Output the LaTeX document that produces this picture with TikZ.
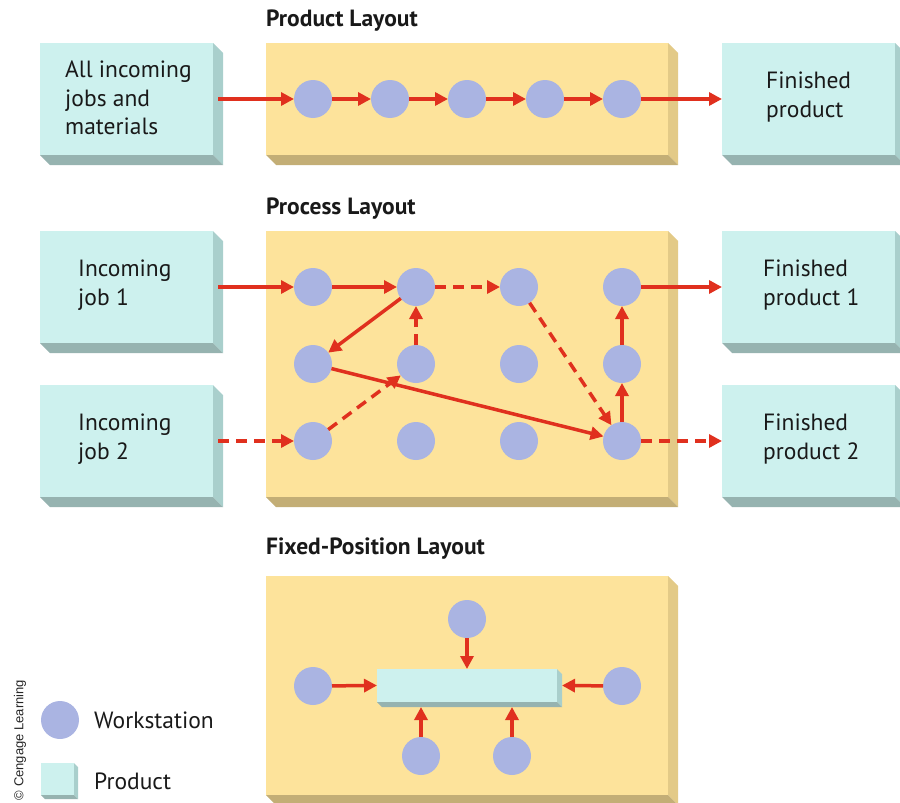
\documentclass[tikz,border=0pt]{standalone}
\usepackage{fontspec}
\setmainfont{PT Sans}
\newfontfamily\creditfont{Liberation Sans}
\usetikzlibrary{calc,arrows.meta,positioning}
\definecolor{jobcyan}{HTML}{CDF1EE}
\definecolor{jobcyanside}{HTML}{A9CFCC}
\definecolor{jobcyanbase}{HTML}{96B3B0}
\definecolor{floor}{HTML}{FDE39B}
\definecolor{floorside}{HTML}{E3CA87}
\definecolor{floorbase}{HTML}{C3AE76}
\definecolor{wsblue}{HTML}{AAB4E2}
\definecolor{flowred}{HTML}{E0301E}
% side and bottom faces of a slab node
\newcommand{\slabfaces}[3]{%
	\fill[#3side] (#1.north east) -- ++(#2,#2) -- ($(#1.south east)+(#2,#2)$) -- (#1.south east) -- cycle;
	\fill[#3base] (#1.south west) -- (#1.south east) -- ++(#2,#2) -- ($(#1.south west)+(#2,#2)$) -- cycle;
}
\tikzset{
	slab/.style={
		rectangle, inner sep=0pt, outer sep=0pt, anchor=north west
	},
	jobbox/.style={
		slab, fill=jobcyan, minimum width=173pt, minimum height=112pt
	},
	floorbox/.style={
		slab, fill=floor, minimum width=402pt, minimum height=#1
	},
	ws/.style={
		circle, fill=wsblue, minimum size=38pt,
		inner sep=0pt, outer sep=0pt
	},
	boxtext/.style={
		anchor=west, align=left, inner sep=0pt,
		font=\fontsize{23.5}{28.5}\selectfont, text=black!90
	},
	layouttitle/.style={
		anchor=west, inner sep=0pt,
		font=\fontsize{23.5}{28}\selectfont\bfseries, text=black!90
	},
	flow/.style={
		draw=flowred, line width=3.5pt,
		-{Triangle[length=13pt,width=13pt]}
	},
	dflow/.style={flow, dash pattern=on 11pt off 7pt}
}
\begin{document}
\begin{tikzpicture}[x=1pt,y=-1pt]
	\useasboundingbox (0,0) rectangle (900,803);
	% product layout
	\node[layouttitle] (prodtitle) at (266,21) {Product Layout};
	\node[jobbox] (inall) at (40,43) {};
	\node[floorbox=112pt] (prodfloor) at (266,43) {};
	\node[jobbox] (outprod) at (722,43) {};
	\slabfaces{inall}{10}{jobcyan}
	\slabfaces{prodfloor}{10}{floor}
	\slabfaces{outprod}{10}{jobcyan}
	\node[boxtext] (inalltext) at (65,98) {All incoming\\jobs and\\materials};
	\node[boxtext] (outprodtext) at (766,97) {Finished\\product};
	\foreach \i/\x in {1/313,2/390,3/467,4/545,5/622}
		\node[ws] (p\i) at (\x,99) {};
	\draw[flow] ([xshift=5pt]inall.east |- p1) -- (p1);
	\foreach \i/\j in {1/2,2/3,3/4,4/5}
		\draw[flow] (p\i) -- (p\j);
	\draw[flow] (p5) -- (outprod.west |- p5);

	% process layout
	\node[layouttitle] (proctitle) at (266,209) {Process Layout};
	\node[jobbox] (injob1) at (40,231) {};
	\node[jobbox] (injob2) at (40,385) {};
	\node[floorbox=266pt] (procfloor) at (266,231) {};
	\node[jobbox] (outjob1) at (722,231) {};
	\node[jobbox] (outjob2) at (722,385) {};
	\slabfaces{injob1}{10}{jobcyan}
	\slabfaces{injob2}{10}{jobcyan}
	\slabfaces{procfloor}{10}{floor}
	\slabfaces{outjob1}{10}{jobcyan}
	\slabfaces{outjob2}{10}{jobcyan}
	\node[boxtext] (injob1text) at (78,285) {Incoming\\job 1};
	\node[boxtext] (injob2text) at (78,439) {Incoming\\job 2};
	\node[boxtext] (outjob1text) at (763,285) {Finished\\product 1};
	\node[boxtext] (outjob2text) at (763,439) {Finished\\product 2};
	\foreach \r/\y in {1/287,2/364,3/441}
		\foreach \c/\x in {1/313,2/416,3/519,4/622}
			\node[ws] (c\r\c) at (\x,\y) {};
	\draw[flow] ([xshift=5pt]injob1.east |- c11) -- (c11);
	\draw[flow] (c11) -- (c12);
	\draw[dflow] (c12) -- (c13);
	\draw[flow] (c12) -- (c21);
	\draw[dflow] (c22) -- (c12);
	\draw[dflow] (c13) -- (c34);
	\draw[flow] (c21) -- (c34);
	\draw[dflow] (c31) -- (c22);
	\draw[flow] (c34) -- (c24);
	\draw[flow] (c24) -- (c14);
	\draw[flow] (c14) -- (outjob1.west |- c14);
	\draw[dflow] ([xshift=5pt]injob2.east |- c31) -- (c31);
	\draw[dflow] (c34) -- (outjob2.west |- c34);

	% fixed-position layout
	\node[layouttitle] (fixtitle) at (266,549) {Fixed-Position Layout};
	\node[floorbox=219pt] (fixfloor) at (266,576) {};
	\slabfaces{fixfloor}{10}{floor}
	\node[slab, fill=jobcyan, minimum width=180pt, minimum height=33pt] (bar) at (377,669) {};
	\slabfaces{bar}{5}{jobcyan}
	\node[ws] (ftop) at (467,619) {};
	\node[ws] (fleft) at (313,686) {};
	\node[ws] (fright) at (622,686) {};
	\node[ws] (fbot1) at (421,756) {};
	\node[ws] (fbot2) at (512,756) {};
	\draw[flow] (ftop) -- (ftop |- bar.north);
	\draw[flow] (fleft) -- (bar.west);
	\draw[flow] (fright) -- ($(bar.east)+(5,0)$);
	\draw[flow] (fbot1) -- ($(fbot1 |- bar.south)+(0,5)$);
	\draw[flow] (fbot2) -- ($(fbot2 |- bar.south)+(0,5)$);

	% legend
	\node[ws] (legws) at (60,720) {};
	\node[boxtext] (legwstext) at (94,720) {Workstation};
	\node[slab, fill=jobcyan, minimum width=33pt, minimum height=32pt] (legprod) at (41,763) {};
	\slabfaces{legprod}{4}{jobcyan}
	\node[boxtext] (legprodtext) at (94,781) {Product};
	\node[rotate=90, inner sep=0pt, font=\creditfont\fontsize{13}{15}\selectfont, text=black!85] (credit) at (20,740) {\textcopyright{} Cengage Learning};
\end{tikzpicture}
\end{document}
